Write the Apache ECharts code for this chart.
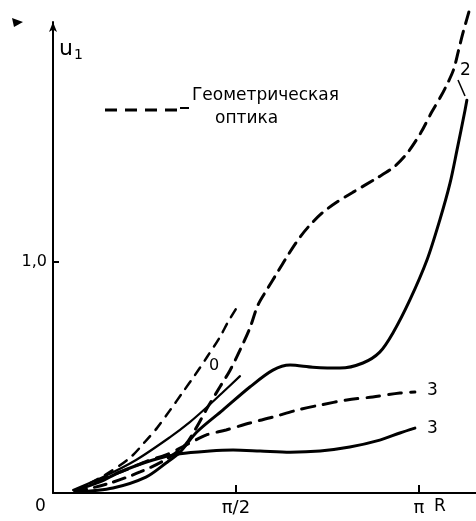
<!DOCTYPE html>
<html><head><meta charset="utf-8">
<script src="https://cdn.jsdelivr.net/npm/echarts@6/dist/echarts.min.js"></script>
<style>html,body{margin:0;padding:0;background:#fff}#c{width:476px;height:521px}</style>
</head><body><div id="c"></div>
<script>
// x in units of pi (0.5 = pi/2, 1 = pi), y = u1
const xTickValues = [0.5, 1];
const xTickLabels = {0.5: 'π/2', 1: 'π'};
const yTickValues = [1];
const yTickLabels = {1: '1,0'};

const geomX = [0.060,0.156,0.238,0.306,0.361,0.391,0.423,0.456,0.484,0.511,0.538,0.560,0.587,0.612,0.642,0.675,0.702,0.738,0.776,0.820,0.885,0.934,0.970,1.005,1.035,1.060,1.080,1.095,1.108,1.120,1.142];
const geomY = [0.004,0.043,0.091,0.143,0.208,0.281,0.372,0.459,0.532,0.619,0.714,0.814,0.887,0.952,1.030,1.108,1.160,1.216,1.260,1.303,1.364,1.415,1.476,1.560,1.650,1.718,1.780,1.835,1.915,1.991,2.113];

const c2X = [0.060,0.164,0.254,0.309,0.347,0.393,0.464,0.538,0.601,0.648,0.710,0.784,0.847,0.893,0.929,0.975,1.022,1.057,1.085,1.104,1.126,1.131];
const c2Y = [0.004,0.022,0.069,0.130,0.177,0.264,0.359,0.459,0.532,0.554,0.545,0.541,0.563,0.610,0.693,0.835,1.009,1.182,1.342,1.485,1.658,1.701];

const c0sX = [0.055,0.137,0.227,0.320,0.374,0.418,0.462,0.511];
const c0sY = [0.013,0.069,0.143,0.242,0.307,0.368,0.433,0.506];

const c0dX = [0.060,0.142,0.210,0.251,0.284,0.320,0.355,0.388,0.421,0.456,0.478,0.503];
const c0dY = [0.009,0.078,0.152,0.221,0.281,0.359,0.437,0.511,0.589,0.675,0.740,0.805];

const c3dX = [0.060,0.128,0.199,0.265,0.309,0.374,0.418,0.473,0.538,0.601,0.667,0.730,0.803,0.874,0.948,0.989];
const c3dY = [0.009,0.056,0.100,0.143,0.165,0.216,0.251,0.273,0.303,0.329,0.359,0.381,0.403,0.416,0.433,0.437];

const c3sX = [0.063,0.128,0.183,0.273,0.347,0.429,0.492,0.566,0.648,0.730,0.811,0.893,0.948,0.989];
const c3sY = [0.013,0.048,0.091,0.143,0.170,0.182,0.186,0.182,0.177,0.182,0.199,0.229,0.260,0.281];

const zip = (xs, ys) => xs.map((x, i) => [x, ys[i]]);
const FONT = 'DejaVu Sans';

function line(data, dashed, width, dash, label, labelOffset) {
  const s = {
    type: 'line', data: data, smooth: 0.3, showSymbol: false, clip: false,
    lineStyle: {color: '#000', width: width, type: dashed ? dash : 'solid', cap: 'round'},
    animation: false
  };
  if (label) {
    s.endLabel = {show: true, formatter: label, color: '#000', fontFamily: FONT, fontSize: 17, offset: labelOffset};
  }
  return s;
}

const chart = echarts.init(document.getElementById('c'));
chart.setOption({
  backgroundColor: '#fff',
  animation: false,
  grid: {left: 53, right: 0, top: 22, bottom: 28},
  xAxis: {
    type: 'value', min: 0, max: 1.156, interval: 0.5,
    axisLine: {lineStyle: {color: '#000', width: 2}},
    axisTick: {inside: true, length: 8, lineStyle: {color: '#000', width: 2}, customValues: xTickValues},
    axisLabel: {customValues: xTickValues, formatter: v => xTickLabels[v] || '', color: '#000', fontFamily: FONT, fontSize: 18, margin: 6},
    splitLine: {show: false}
  },
  yAxis: {
    type: 'value', min: 0, max: 2.04, interval: 1,
    axisLine: {show: true, symbol: ['none', 'arrow'], symbolSize: [6, 10], lineStyle: {color: '#000', width: 2}},
    axisTick: {inside: true, length: 6, lineStyle: {color: '#000', width: 2}, customValues: yTickValues},
    axisLabel: {customValues: yTickValues, formatter: v => yTickLabels[v] || '', color: '#000', fontFamily: FONT, fontSize: 16, margin: 6},
    splitLine: {show: false}
  },
  series: [
    line(zip(geomX, geomY), true, 3, [12, 8]),
    line(zip(c2X, c2Y), false, 3),
    line(zip(c0sX, c0sY), false, 2.2),
    line(zip(c0dX, c0dY), true, 2.5, [9, 8]),
    line(zip(c3dX, c3dY), true, 3, [13, 9], '3', [4, -2]),
    line(zip(c3sX, c3sY), false, 3, null, '3', [4, 0])
  ],
  graphic: [
    {type: 'polygon', shape: {points: [[12, 18], [23, 22], [14, 27]]}, style: {fill: '#000'}},
    {type: 'text', left: 59, top: 38, style: {text: '{a|u}{b|1}', rich: {a: {fontFamily: FONT, fontSize: 22, fill: '#000'}, b: {fontFamily: FONT, fontSize: 14, fill: '#000', verticalAlign: 'bottom', padding: [12, 0, 0, 1]}}}},
    {type: 'text', left: 35, top: 498, style: {text: '0', fontFamily: FONT, fontSize: 17, fill: '#000'}},
    {type: 'text', left: 434, top: 498, style: {text: 'R', fontFamily: FONT, fontSize: 17, fill: '#000'}},
    {type: 'line', shape: {x1: 105, y1: 110, x2: 180, y2: 110}, style: {stroke: '#000', lineWidth: 3, lineDash: [12, 8]}},
    {type: 'line', shape: {x1: 180, y1: 108, x2: 189, y2: 108}, style: {stroke: '#000', lineWidth: 2}},
    {type: 'text', left: 192, top: 87, style: {text: 'Геометрическая', fontFamily: FONT, fontSize: 17, fill: '#000'}},
    {type: 'text', left: 215, top: 110, style: {text: 'оптика', fontFamily: FONT, fontSize: 17, fill: '#000'}},
    {type: 'text', left: 209, top: 358, style: {text: '0', fontFamily: FONT, fontSize: 16, fill: '#000'}},
    {type: 'text', left: 460, top: 62, style: {text: '2', fontFamily: FONT, fontSize: 17, fill: '#000'}},
    {type: 'line', shape: {x1: 458, y1: 80, x2: 465, y2: 96}, style: {stroke: '#000', lineWidth: 1.5}}
  ]
});
</script></body></html>
